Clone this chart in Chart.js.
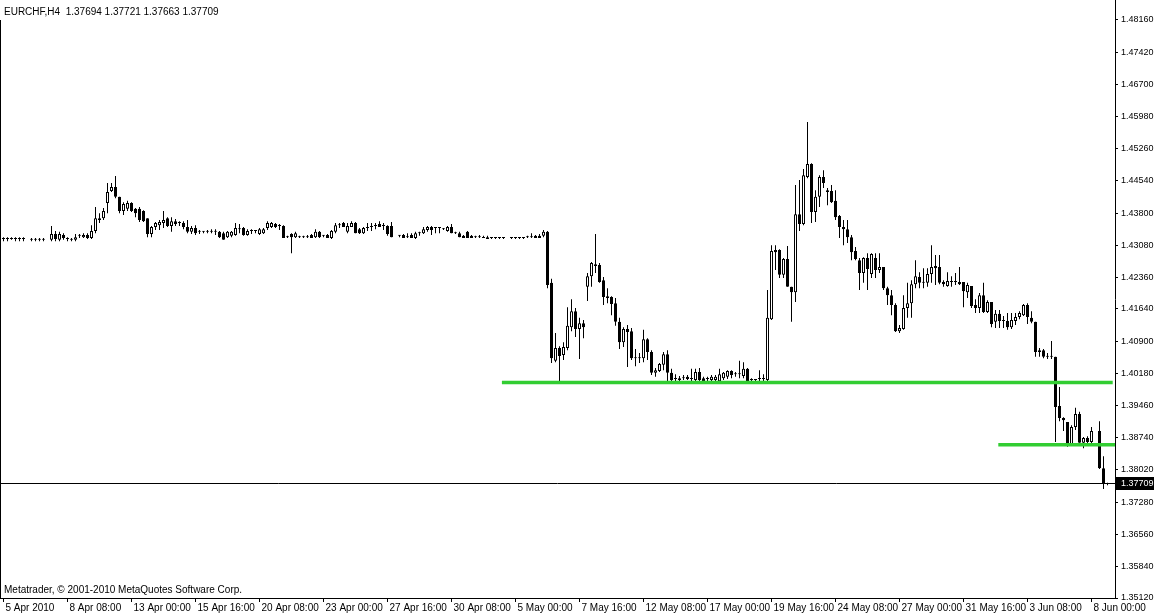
<!DOCTYPE html>
<html>
<head>
<meta charset="utf-8">
<script src="https://cdn.jsdelivr.net/npm/chart.js@4.4.1/dist/chart.umd.min.js"></script>
<style>
  html, body { margin: 0; padding: 0; background: #fff; }
  #wrap { width: 1154px; height: 616px; }
</style>
</head>
<body>
<div id="wrap"><canvas id="chart" width="1154" height="616"></canvas></div>
<script>
// ===========================
// DATA (EURCHF, H4 candles, one slot per bar, null = no bar drawn)
// ===========================
const symbolTitle = "EURCHF,H4  1.37694 1.37721 1.37663 1.37709";
const footerText = "Metatrader, \u00A9 2001-2010 MetaQuotes Software Corp.";

const openPrices = [
    1.4322, 1.4322, 1.4322, 1.4322, 1.4322, 1.4322, null, 1.4320, 1.4320, 1.4320,
    1.4320, null, 1.4320, 1.4333, 1.4320, 1.4331, 1.4322, 1.4320, 1.4320, 1.4329,
    1.4326, 1.4331, 1.4324, 1.4340, 1.4365, 1.4369, 1.4403, 1.4430, 1.4439, 1.4417,
    1.4385, 1.4390, 1.4403, 1.4390, 1.4390, 1.4385, 1.4369, 1.4333, 1.4349, 1.4353,
    1.4358, 1.4369, 1.4351, 1.4362, 1.4358, 1.4358, 1.4349, 1.4338, 1.4347, 1.4338,
    1.4338, 1.4338, 1.4338, 1.4338, 1.4338, 1.4335, 1.4326, 1.4329, 1.4331, 1.4344,
    1.4347, 1.4331, 1.4340, 1.4340, 1.4333, 1.4335, 1.4347, 1.4349, 1.4356, 1.4351,
    1.4351, 1.4326, 1.4333, 1.4326, 1.4326, 1.4326, 1.4326, 1.4331, 1.4326, 1.4338,
    1.4329, 1.4331, 1.4324, 1.4338, 1.4353, 1.4358, 1.4338, 1.4349, 1.4358, 1.4344,
    1.4335, 1.4347, 1.4349, 1.4351, 1.4356, 1.4351, 1.4351, 1.4351, null, 1.4329,
    1.4331, 1.4326, 1.4331, 1.4324, 1.4335, 1.4335, 1.4342, 1.4349, 1.4347, 1.4347,
    1.4344, 1.4340, 1.4349, 1.4335, 1.4335, 1.4329, 1.4338, 1.4329, 1.4326, 1.4326,
    1.4326, 1.4326, 1.4324, 1.4324, 1.4324, 1.4324, null, 1.4324, 1.4324, 1.4324,
    1.4324, 1.4326, 1.4326, 1.4329, 1.4329, 1.4329, 1.4338, 1.4223, 1.4047, 1.4076,
    1.4060, 1.4076, 1.4123, 1.4159, 1.4119, 1.4132, 1.4214, 1.4238, 1.4265, 1.4263,
    1.4229, 1.4193, 1.4191, 1.4177, 1.4135, 1.4089, 1.4119, 1.4114, 1.4053, 1.4053,
    1.4053, 1.4096, 1.4067, 1.4020, 1.4024, 1.4038, 1.4062, 1.4020, 1.4006, 1.4004,
    1.4008, 1.4011, 1.4006, 1.4004, 1.4022, 1.4008, 1.4006, 1.4004, 1.4004, 1.4001,
    1.4008, 1.4011, 1.4024, 1.4017, 1.4017, 1.4013, 1.4029, 1.4004, 1.4004, 1.4006,
    1.4006, 1.4004, 1.4141, 1.4297, 1.4297, 1.4241, 1.4277, 1.4214, 1.4202, 1.4378,
    1.4356, 1.4462, 1.4491, 1.4383, 1.4417, 1.4462, 1.4432, 1.4430, 1.4408, 1.4374,
    1.4349, 1.4344, 1.4326, 1.4295, 1.4274, 1.4245, 1.4279, 1.4243, 1.4279, 1.4252,
    1.4259, 1.4211, 1.4195, 1.4173, 1.4114, 1.4119, 1.4166, 1.4177, 1.4220, 1.4236,
    1.4225, 1.4223, 1.4243, 1.4261, 1.4259, 1.4225, 1.4216, 1.4225, 1.4225, 1.4225,
    1.4225, 1.4202, 1.4216, 1.4173, 1.4166, 1.4195, 1.4157, 1.4180, 1.4135, 1.4153,
    1.4137, 1.4137, 1.4123, 1.4137, 1.4146, 1.4150, 1.4173, 1.4144, 1.4135, 1.4071,
    1.4071, 1.4056, 1.4056, 1.4056, 1.3945, 1.3918, 1.3909, 1.3859, 1.3898, 1.3927,
    1.3862, 1.3873, 1.3864, null, 1.3889, 1.3805, 1.37694
];

const highPrices = [
    1.4326, 1.4326, 1.4326, 1.4326, 1.4326, 1.4326, null, 1.4324, 1.4324, 1.4324,
    1.4324, null, 1.4351, 1.4340, 1.4338, 1.4335, 1.4326, 1.4324, 1.4333, 1.4333,
    1.4335, 1.4335, 1.4353, 1.4394, 1.4380, 1.4392, 1.4448, 1.4448, 1.4464, 1.4417,
    1.4405, 1.4408, 1.4405, 1.4392, 1.4394, 1.4387, 1.4369, 1.4351, 1.4360, 1.4365,
    1.4385, 1.4371, 1.4371, 1.4367, 1.4362, 1.4362, 1.4365, 1.4351, 1.4353, 1.4342,
    1.4340, 1.4342, 1.4344, 1.4344, 1.4340, 1.4338, 1.4340, 1.4340, 1.4358, 1.4356,
    1.4349, 1.4344, 1.4344, 1.4342, 1.4347, 1.4347, 1.4362, 1.4360, 1.4358, 1.4356,
    1.4353, 1.4329, 1.4335, 1.4338, 1.4329, 1.4329, 1.4331, 1.4333, 1.4344, 1.4340,
    1.4331, 1.4333, 1.4342, 1.4358, 1.4358, 1.4360, 1.4358, 1.4362, 1.4360, 1.4347,
    1.4349, 1.4358, 1.4358, 1.4358, 1.4362, 1.4358, 1.4353, 1.4360, null, 1.4331,
    1.4333, 1.4335, 1.4335, 1.4338, 1.4338, 1.4349, 1.4351, 1.4351, 1.4349, 1.4349,
    1.4347, 1.4351, 1.4356, 1.4338, 1.4338, 1.4331, 1.4340, 1.4331, 1.4329, 1.4331,
    1.4329, 1.4329, 1.4326, 1.4326, 1.4326, 1.4326, null, 1.4326, 1.4326, 1.4326,
    1.4326, 1.4329, 1.4335, 1.4331, 1.4333, 1.4342, 1.4340, 1.4232, 1.4110, 1.4080,
    1.4089, 1.4168, 1.4186, 1.4166, 1.4144, 1.4139, 1.4245, 1.4270, 1.4333, 1.4268,
    1.4236, 1.4211, 1.4193, 1.4189, 1.4144, 1.4123, 1.4128, 1.4121, 1.4074, 1.4065,
    1.4117, 1.4098, 1.4071, 1.4031, 1.4042, 1.4067, 1.4071, 1.4029, 1.4017, 1.4013,
    1.4015, 1.4015, 1.4029, 1.4029, 1.4031, 1.4011, 1.4011, 1.4015, 1.4015, 1.4029,
    1.4022, 1.4026, 1.4026, 1.4022, 1.4047, 1.4044, 1.4031, 1.4008, 1.4006, 1.4026,
    1.4017, 1.4207, 1.4308, 1.4308, 1.4299, 1.4279, 1.4306, 1.4214, 1.4444, 1.4455,
    1.4480, 1.4586, 1.4493, 1.4432, 1.4466, 1.4477, 1.4437, 1.4444, 1.4432, 1.4376,
    1.4365, 1.4365, 1.4331, 1.4304, 1.4279, 1.4281, 1.4290, 1.4290, 1.4290, 1.4290,
    1.4259, 1.4214, 1.4207, 1.4177, 1.4128, 1.4195, 1.4223, 1.4229, 1.4274, 1.4247,
    1.4256, 1.4256, 1.4308, 1.4286, 1.4286, 1.4229, 1.4247, 1.4238, 1.4245, 1.4259,
    1.4225, 1.4223, 1.4216, 1.4186, 1.4200, 1.4223, 1.4184, 1.4180, 1.4162, 1.4162,
    1.4148, 1.4155, 1.4155, 1.4155, 1.4159, 1.4175, 1.4177, 1.4159, 1.4135, 1.4076,
    1.4074, 1.4065, 1.4092, 1.4056, 1.3988, 1.3920, 1.3909, 1.3902, 1.3941, 1.3932,
    1.3875, 1.3877, 1.3898, null, 1.3911, 1.3832, 1.37721
];

const lowPrices = [
    1.4317, 1.4317, 1.4320, 1.4317, 1.4317, 1.4317, null, 1.4317, 1.4317, 1.4317,
    1.4317, null, 1.4317, 1.4317, 1.4317, 1.4320, 1.4317, 1.4317, 1.4317, 1.4324,
    1.4324, 1.4322, 1.4322, 1.4335, 1.4358, 1.4365, 1.4380, 1.4428, 1.4414, 1.4380,
    1.4376, 1.4385, 1.4383, 1.4371, 1.4360, 1.4360, 1.4326, 1.4326, 1.4342, 1.4342,
    1.4347, 1.4349, 1.4338, 1.4351, 1.4351, 1.4344, 1.4335, 1.4333, 1.4331, 1.4333,
    1.4335, 1.4335, 1.4335, 1.4331, 1.4324, 1.4320, 1.4324, 1.4326, 1.4329, 1.4335,
    1.4329, 1.4329, 1.4333, 1.4335, 1.4331, 1.4333, 1.4342, 1.4347, 1.4347, 1.4342,
    1.4324, 1.4324, 1.4290, 1.4324, 1.4324, 1.4324, 1.4324, 1.4324, 1.4324, 1.4324,
    1.4326, 1.4324, 1.4322, 1.4335, 1.4347, 1.4349, 1.4335, 1.4349, 1.4335, 1.4333,
    1.4333, 1.4340, 1.4340, 1.4344, 1.4349, 1.4342, 1.4329, 1.4326, null, 1.4326,
    1.4324, 1.4324, 1.4324, 1.4322, 1.4329, 1.4333, 1.4338, 1.4331, 1.4335, 1.4335,
    1.4342, 1.4338, 1.4335, 1.4333, 1.4326, 1.4324, 1.4324, 1.4324, 1.4324, 1.4324,
    1.4324, 1.4322, 1.4322, 1.4322, 1.4322, 1.4322, null, 1.4322, 1.4322, 1.4322,
    1.4322, 1.4324, 1.4324, 1.4324, 1.4324, 1.4326, 1.4211, 1.4042, 1.4044, 1.3999,
    1.4049, 1.4071, 1.4114, 1.4101, 1.4051, 1.4098, 1.4182, 1.4214, 1.4245, 1.4223,
    1.4173, 1.4177, 1.4150, 1.4126, 1.4074, 1.4078, 1.4033, 1.4049, 1.4035, 1.4042,
    1.4044, 1.4049, 1.4015, 1.4011, 1.4022, 1.4026, 1.3997, 1.3999, 1.4001, 1.4001,
    1.4004, 1.4004, 1.4001, 1.4001, 1.4001, 1.4001, 1.4001, 1.4001, 1.4001, 1.3999,
    1.4004, 1.4006, 1.4008, 1.4011, 1.4008, 1.4008, 1.3999, 1.3999, 1.4001, 1.4001,
    1.4001, 1.4001, 1.4139, 1.4252, 1.4234, 1.4234, 1.4214, 1.4135, 1.4180, 1.4340,
    1.4353, 1.4459, 1.4358, 1.4360, 1.4394, 1.4437, 1.4398, 1.4403, 1.4365, 1.4324,
    1.4308, 1.4313, 1.4274, 1.4274, 1.4207, 1.4223, 1.4207, 1.4234, 1.4234, 1.4245,
    1.4207, 1.4173, 1.4150, 1.4112, 1.4110, 1.4117, 1.4144, 1.4144, 1.4211, 1.4211,
    1.4211, 1.4214, 1.4223, 1.4218, 1.4220, 1.4214, 1.4214, 1.4214, 1.4218, 1.4218,
    1.4168, 1.4189, 1.4166, 1.4155, 1.4155, 1.4155, 1.4155, 1.4123, 1.4121, 1.4121,
    1.4121, 1.4117, 1.4119, 1.4128, 1.4141, 1.4148, 1.4130, 1.4132, 1.4056, 1.4056,
    1.4053, 1.4051, 1.4051, 1.3864, 1.3911, 1.3889, 1.3853, 1.3857, 1.3891, 1.3862,
    1.3850, 1.3859, 1.3859, null, 1.3803, 1.3758, 1.37663
];

const closePrices = [
    1.4322, 1.4322, 1.4322, 1.4322, 1.4322, 1.4322, null, 1.4320, 1.4320, 1.4320,
    1.4320, null, 1.4333, 1.4322, 1.4333, 1.4324, 1.4322, 1.4320, 1.4326, 1.4329,
    1.4331, 1.4324, 1.4340, 1.4369, 1.4369, 1.4385, 1.4428, 1.4439, 1.4417, 1.4385,
    1.4401, 1.4403, 1.4385, 1.4380, 1.4365, 1.4362, 1.4333, 1.4349, 1.4358, 1.4360,
    1.4365, 1.4351, 1.4362, 1.4356, 1.4358, 1.4349, 1.4338, 1.4347, 1.4335, 1.4338,
    1.4338, 1.4338, 1.4338, 1.4338, 1.4326, 1.4320, 1.4338, 1.4338, 1.4347, 1.4344,
    1.4331, 1.4340, 1.4340, 1.4340, 1.4344, 1.4344, 1.4358, 1.4358, 1.4349, 1.4351,
    1.4324, 1.4326, 1.4326, 1.4335, 1.4326, 1.4326, 1.4326, 1.4324, 1.4338, 1.4326,
    1.4329, 1.4324, 1.4340, 1.4353, 1.4353, 1.4349, 1.4351, 1.4358, 1.4335, 1.4335,
    1.4347, 1.4347, 1.4349, 1.4351, 1.4349, 1.4351, 1.4333, 1.4326, null, 1.4329,
    1.4324, 1.4326, 1.4324, 1.4335, 1.4335, 1.4344, 1.4349, 1.4342, 1.4347, 1.4347,
    1.4344, 1.4349, 1.4335, 1.4335, 1.4326, 1.4324, 1.4324, 1.4324, 1.4326, 1.4326,
    1.4324, 1.4322, 1.4324, 1.4324, 1.4324, 1.4324, null, 1.4324, 1.4324, 1.4324,
    1.4324, 1.4326, 1.4326, 1.4324, 1.4324, 1.4338, 1.4218, 1.4053, 1.4076, 1.4058,
    1.4078, 1.4126, 1.4159, 1.4119, 1.4132, 1.4123, 1.4238, 1.4268, 1.4261, 1.4225,
    1.4191, 1.4189, 1.4175, 1.4135, 1.4089, 1.4119, 1.4112, 1.4053, 1.4053, 1.4053,
    1.4096, 1.4067, 1.4020, 1.4026, 1.4040, 1.4062, 1.4020, 1.4004, 1.4006, 1.4008,
    1.4008, 1.4006, 1.4006, 1.4022, 1.4004, 1.4001, 1.4006, 1.4011, 1.4011, 1.4017,
    1.4020, 1.4024, 1.4015, 1.4017, 1.4017, 1.4029, 1.4001, 1.4004, 1.4004, 1.4006,
    1.4006, 1.4144, 1.4295, 1.4292, 1.4241, 1.4277, 1.4214, 1.4202, 1.4378, 1.4356,
    1.4466, 1.4491, 1.4383, 1.4417, 1.4462, 1.4448, 1.4428, 1.4405, 1.4371, 1.4349,
    1.4344, 1.4326, 1.4292, 1.4277, 1.4245, 1.4279, 1.4254, 1.4288, 1.4252, 1.4259,
    1.4211, 1.4195, 1.4173, 1.4114, 1.4121, 1.4166, 1.4177, 1.4220, 1.4238, 1.4223,
    1.4223, 1.4243, 1.4259, 1.4256, 1.4223, 1.4220, 1.4227, 1.4225, 1.4225, 1.4220,
    1.4204, 1.4218, 1.4171, 1.4166, 1.4195, 1.4157, 1.4180, 1.4130, 1.4153, 1.4137,
    1.4137, 1.4123, 1.4139, 1.4146, 1.4155, 1.4173, 1.4146, 1.4135, 1.4067, 1.4067,
    1.4056, 1.4056, 1.4056, 1.3943, 1.3918, 1.3913, 1.3859, 1.3898, 1.3927, 1.3862,
    1.3873, 1.3864, 1.3889, null, 1.3805, 1.3769, 1.37709
];

// time axis: bar index of each label + the label text
const timeTickBars = [0, 16, 32, 48, 64, 80, 96, 112, 128, 144, 160, 176, 192, 208, 224, 240, 256, 272];
const timeTickLabels = [
    "5 Apr 2010", "8 Apr 08:00", "13 Apr 00:00", "15 Apr 16:00", "20 Apr 08:00", "23 Apr 00:00",
    "27 Apr 16:00", "30 Apr 08:00", "5 May 00:00", "7 May 16:00", "12 May 08:00", "17 May 00:00",
    "19 May 16:00", "24 May 08:00", "27 May 00:00", "31 May 16:00", "3 Jun 08:00", "8 Jun 00:00"
];

// price axis labels
const priceTickLabels = [
    "1.48160", "1.47420", "1.46700", "1.45980", "1.45260", "1.44540", "1.43800", "1.43080",
    "1.42360", "1.41640", "1.40900", "1.40180", "1.39460", "1.38740", "1.38020", "1.37280",
    "1.36560", "1.35840", "1.35120"
];

// hand-drawn support lines (price, first bar, last bar)
const levelPrices = [1.3998, 1.3858];
const levelFromBar = [124.6, 248.7];
const levelToBar = [277.3, 277.9];

const lastClose = 1.37709;
const lastCloseLabel = "1.37709";

// ===========================
// BUILD DATASETS
// ===========================
const bodyPoints = [];
const wickPoints = [];
const bodyColors = [];

openPrices.forEach((o, i) => {
    if (o === null) return;
    bodyPoints.push({ x: i, y: [o, closePrices[i]] });
    wickPoints.push({ x: i, y: [lowPrices[i], highPrices[i]] });
    bodyColors.push(closePrices[i] > o ? "#ffffff" : "#000000");
});

const levelDatasets = levelPrices.map((p, k) => ({
    type: "line",
    data: [{ x: levelFromBar[k], y: p }, { x: levelToBar[k], y: p }],
    borderColor: "#32cd32",
    borderWidth: 3.5,
    pointRadius: 0,
    order: 0
}));

Chart.defaults.font.family = '"Liberation Sans", Arial, sans-serif';
Chart.defaults.font.size = 10;
Chart.defaults.color = "#000";

// ===========================
// MT4 STYLE DECORATION
// ===========================
const mtDecor = {
    id: "mtDecor",
    beforeDatasetsDraw(chart) {
        const ctx = chart.ctx;
        const area = chart.chartArea;
        const py = Math.round(chart.scales.y.getPixelForValue(lastClose)) + 0.5;
        ctx.save();
        ctx.strokeStyle = "#000";
        ctx.lineWidth = 1;
        ctx.beginPath();
        ctx.moveTo(area.left, py);
        ctx.lineTo(area.right, py);
        ctx.stroke();
        ctx.restore();
    },
    afterDraw(chart) {
        const ctx = chart.ctx;
        const area = chart.chartArea;
        ctx.save();
        // left frame
        ctx.strokeStyle = "#000";
        ctx.lineWidth = 1;
        ctx.beginPath();
        ctx.moveTo(0.5, 20);
        ctx.lineTo(0.5, area.bottom);
        ctx.stroke();

        ctx.font = '10px "Liberation Sans", Arial, sans-serif';
        ctx.fillStyle = "#000";
        ctx.textBaseline = "alphabetic";
        ctx.fillText(symbolTitle, 4, 15);
        ctx.fillText(footerText, 4, 593);

        // current price box on the axis
        const py = Math.round(chart.scales.y.getPixelForValue(lastClose));
        ctx.fillRect(area.right + 1, py - 6, chart.width - area.right - 1, 13);
        ctx.fillStyle = "#fff";
        ctx.font = '9px "Liberation Sans", Arial, sans-serif';
        ctx.textBaseline = "middle";
        ctx.fillText(lastCloseLabel, area.right + 6, py + 1);
        ctx.restore();
    }
};

// ===========================
// CHART
// ===========================
new Chart(document.getElementById("chart").getContext("2d"), {
    type: "bar",
    data: {
        datasets: [
            {
                label: "wick",
                data: wickPoints,
                backgroundColor: "#000",
                borderWidth: 0,
                barThickness: 1,
                minBarLength: 1,
                inflateAmount: 0,
                grouped: false,
                order: 2
            },
            {
                label: "body",
                data: bodyPoints,
                backgroundColor: bodyColors,
                borderColor: "#000",
                borderWidth: 1,
                borderSkipped: false,
                barThickness: 3,
                minBarLength: 1,
                inflateAmount: 0,
                grouped: false,
                order: 1
            },
            ...levelDatasets
        ]
    },
    options: {
        responsive: false,
        devicePixelRatio: 1,
        animation: false,
        events: [],
        layout: { padding: 0 },
        plugins: {
            legend: { display: false },
            tooltip: { enabled: false }
        },
        scales: {
            x: {
                type: "linear",
                min: -0.875,
                max: 277.875,
                offset: false,
                afterBuildTicks: s => { s.ticks = timeTickBars.map(v => ({ value: v })); },
                afterFit: s => { s.height = 18; s.paddingLeft = 0; s.paddingRight = 0; },
                ticks: {
                    callback: (v, i) => timeTickLabels[i],
                    align: "start",
                    autoSkip: false,
                    maxRotation: 0,
                    padding: 0,
                    labelOffset: 2,
                    color: "#000"
                },
                grid: { drawOnChartArea: false, offset: false, tickLength: 4, color: "#000" },
                border: { color: "#000" }
            },
            y: {
                position: "right",
                min: 1.35120,
                max: 1.48611,
                afterBuildTicks: s => { s.ticks = priceTickLabels.map(v => ({ value: Number(v) })); },
                afterFit: s => { s.width = 39; s.paddingTop = 0; s.paddingBottom = 0; },
                ticks: {
                    callback: (v, i) => priceTickLabels[i],
                    autoSkip: false,
                    padding: 3,
                    color: "#000",
                    font: { size: 9 }
                },
                grid: { drawOnChartArea: false, tickLength: 3, color: "#000" },
                border: { color: "#000" }
            }
        }
    },
    plugins: [mtDecor]
});
</script>
</body>
</html>
